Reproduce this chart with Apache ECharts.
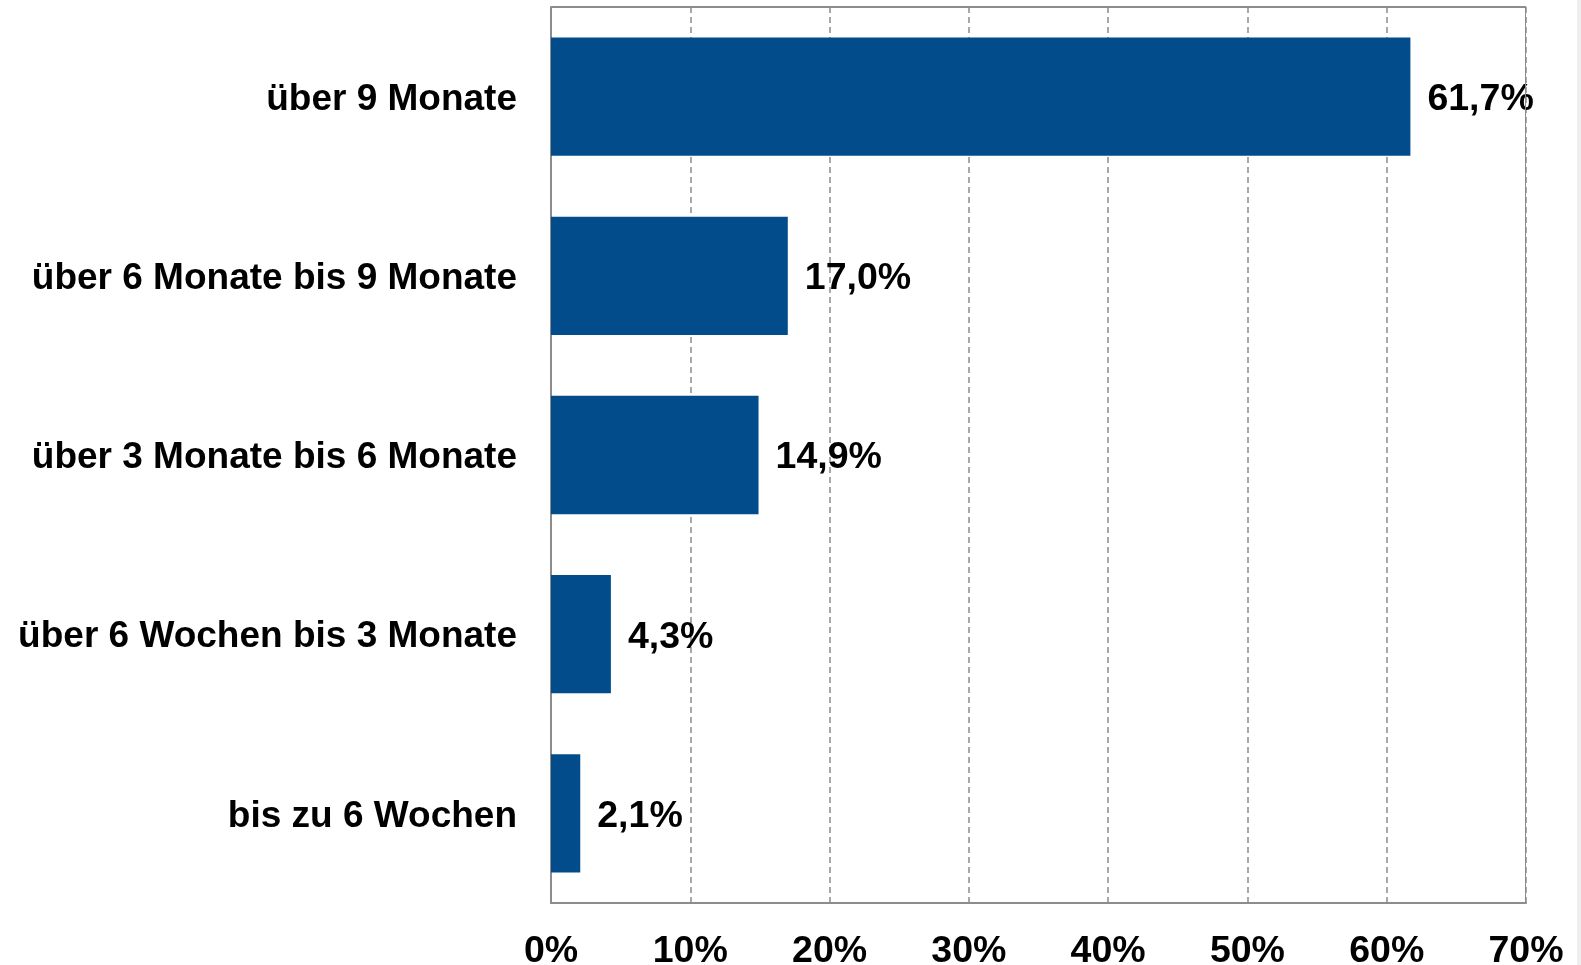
<!DOCTYPE html>
<html>
<head>
<meta charset="utf-8">
<script src="https://cdn.jsdelivr.net/npm/echarts@6/dist/echarts.min.js"></script>
<style>
  html, body { margin: 0; padding: 0; background: #fff; }
  #chart { width: 1581px; height: 965px; }
</style>
</head>
<body>
<div id="chart"></div>
<script>
// Kategorien von oben nach unten
const categories = [
  "über 9 Monate",
  "über 6 Monate bis 9 Monate",
  "über 3 Monate bis 6 Monate",
  "über 6 Wochen bis 3 Monate",
  "bis zu 6 Wochen",
];
const shares = [61.7, 17.0, 14.9, 4.3, 2.1];
const xTicks = [0, 10, 20, 30, 40, 50, 60, 70];

const font = "'Liberation Sans', Arial, sans-serif";
const gray = "#8c8c8c";

const chart = echarts.init(document.getElementById("chart"));

chart.setOption({
  animation: false,
  grid: {
    left: 551,
    top: 7,
    right: 55,
    bottom: 62,
    containLabel: false,
    outerBoundsMode: "none",
  },
  xAxis: {
    type: "value",
    min: xTicks[0],
    max: xTicks[xTicks.length - 1],
    interval: 10,
    axisLine: { show: true, lineStyle: { color: gray, width: 2 } },
    axisTick: { show: false },
    axisLabel: {
      margin: 30,
      color: "#000",
      fontFamily: font,
      fontWeight: "bold",
      fontSize: 37.5,
      formatter: (v) => v + "%",
    },
    splitLine: {
      show: true,
      lineStyle: { color: gray, width: 1.5, type: [6, 4] },
    },
  },
  yAxis: {
    type: "category",
    inverse: true,
    data: categories,
    axisLine: { show: true, lineStyle: { color: gray, width: 2 } },
    axisTick: { show: false },
    axisLabel: {
      margin: 34,
      formatter: (v) => "{c|" + v + "}",
      rich: {
        c: {
          color: "#000",
          fontFamily: font,
          fontWeight: "bold",
          fontSize: 37,
          padding: [6, 0, 0, 0],
        },
      },
    },
  },
  graphic: [
    {
      // rechter und oberer Rahmen
      type: "rect",
      shape: { x: 1525, y: 7, width: 1, height: 896 },
      style: { fill: gray },
      z: 10,
    },
    {
      type: "rect",
      shape: { x: 551, y: 6, width: 975, height: 2 },
      style: { fill: gray },
      z: 10,
    },
    {
      type: "rect",
      shape: { x: 1577, y: 0, width: 4, height: 965 },
      style: { fill: "#eeeeee" },
    },
  ],
  series: [
    {
      type: "bar",
      data: shares,
      barWidth: "66%",
      itemStyle: { color: "#024c8c" },
      label: {
        show: true,
        position: "right",
        distance: 17,
        offset: [0, 3],
        color: "#000",
        fontFamily: font,
        fontWeight: "bold",
        fontSize: 37.5,
        formatter: (p) => p.value.toFixed(1).replace(".", ",") + "%",
      },
    },
  ],
});
</script>
</body>
</html>
